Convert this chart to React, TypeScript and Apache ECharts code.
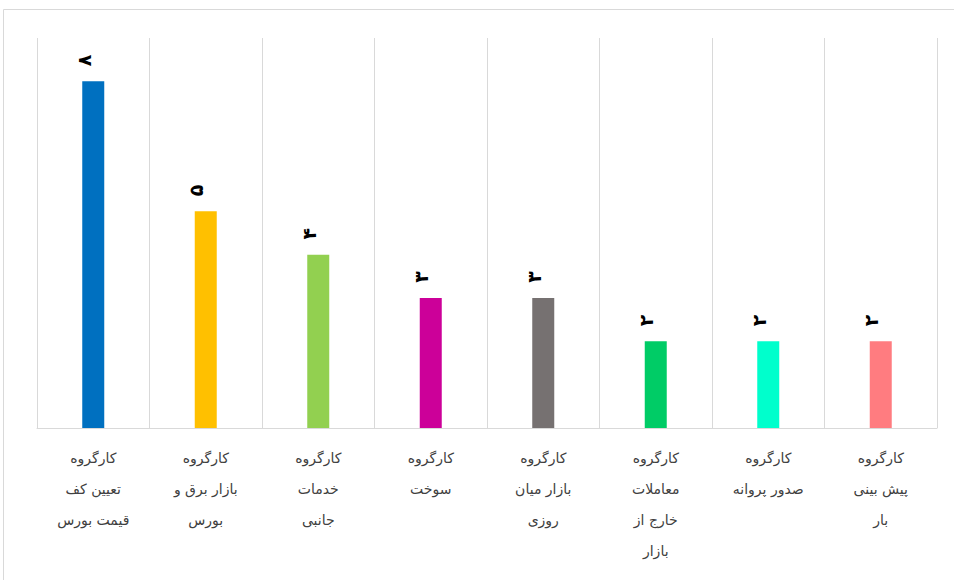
import React, { useEffect, useRef } from "react";
import * as echarts from "echarts";

const categories = [
  "کارگروه\nتعیین کف\nقیمت بورس",
  "کارگروه\nبازار برق و\nبورس",
  "کارگروه\nخدمات\nجانبی",
  "کارگروه\nسوخت",
  "کارگروه\nبازار میان\nروزی",
  "کارگروه\nمعاملات\nخارج از\nبازار",
  "کارگروه\nصدور پروانه",
  "کارگروه\nپیش بینی\nبار",
];
const values = [8, 5, 4, 3, 3, 2, 2, 2];
const colors = ["#0070C0", "#FFC000", "#92D050", "#CC0099", "#767171", "#00CC66", "#00FFCC", "#FF7C80"];

const toPersian = (n: number) => String(n).replace(/\d/g, (d) => "۰۱۲۳۴۵۶۷۸۹"[Number(d)]);

export default function App() {
  const ref = useRef<HTMLDivElement>(null);
  useEffect(() => {
    if (!ref.current) return;
    const chart = echarts.init(ref.current, null, { renderer: "svg" });
    chart.setOption({
      animation: false,
      backgroundColor: "#ffffff",
      grid: { left: 37, right: 17, top: 38, bottom: 152 },
      graphic: [
        {
          type: "rect",
          shape: { x: 3.5, y: 9.5, width: 1000, height: 700 },
          style: { fill: "none", stroke: "#d9d9d9", lineWidth: 1 },
          silent: true,
        },
      ],
      xAxis: {
        type: "category",
        data: categories,
        axisLine: { show: true, lineStyle: { color: "#d9d9d9", width: 1 } },
        axisTick: { show: false },
        splitLine: { show: true, lineStyle: { color: "#d9d9d9", width: 1 } },
        axisLabel: {
          interval: 0,
          color: "#404040",
          fontFamily: "DejaVu Sans",
          fontSize: 14,
          lineHeight: 31,
          margin: 14,
          align: "center",
        },
      },
      yAxis: {
        type: "value",
        min: 0,
        max: 9,
        show: false,
        splitLine: { show: false },
      },
      series: [
        {
          type: "bar",
          data: values.map((v, i) => ({ value: v, itemStyle: { color: colors[i] } })),
          barWidth: 22,
          label: {
            show: true,
            position: "top",
            rotate: 90,
            distance: 21,
            color: "#000000",
            fontFamily: "DejaVu Sans",
            fontSize: 19,
            fontWeight: "bold",
            formatter: (p: any) => toPersian(p.value),
          },
        },
      ],
    });
    return () => chart.dispose();
  }, []);
  return (
    <div
      ref={ref}
      style={{ position: "absolute", left: 0, top: 0, width: 954, height: 580 }}
    />
  );
}
